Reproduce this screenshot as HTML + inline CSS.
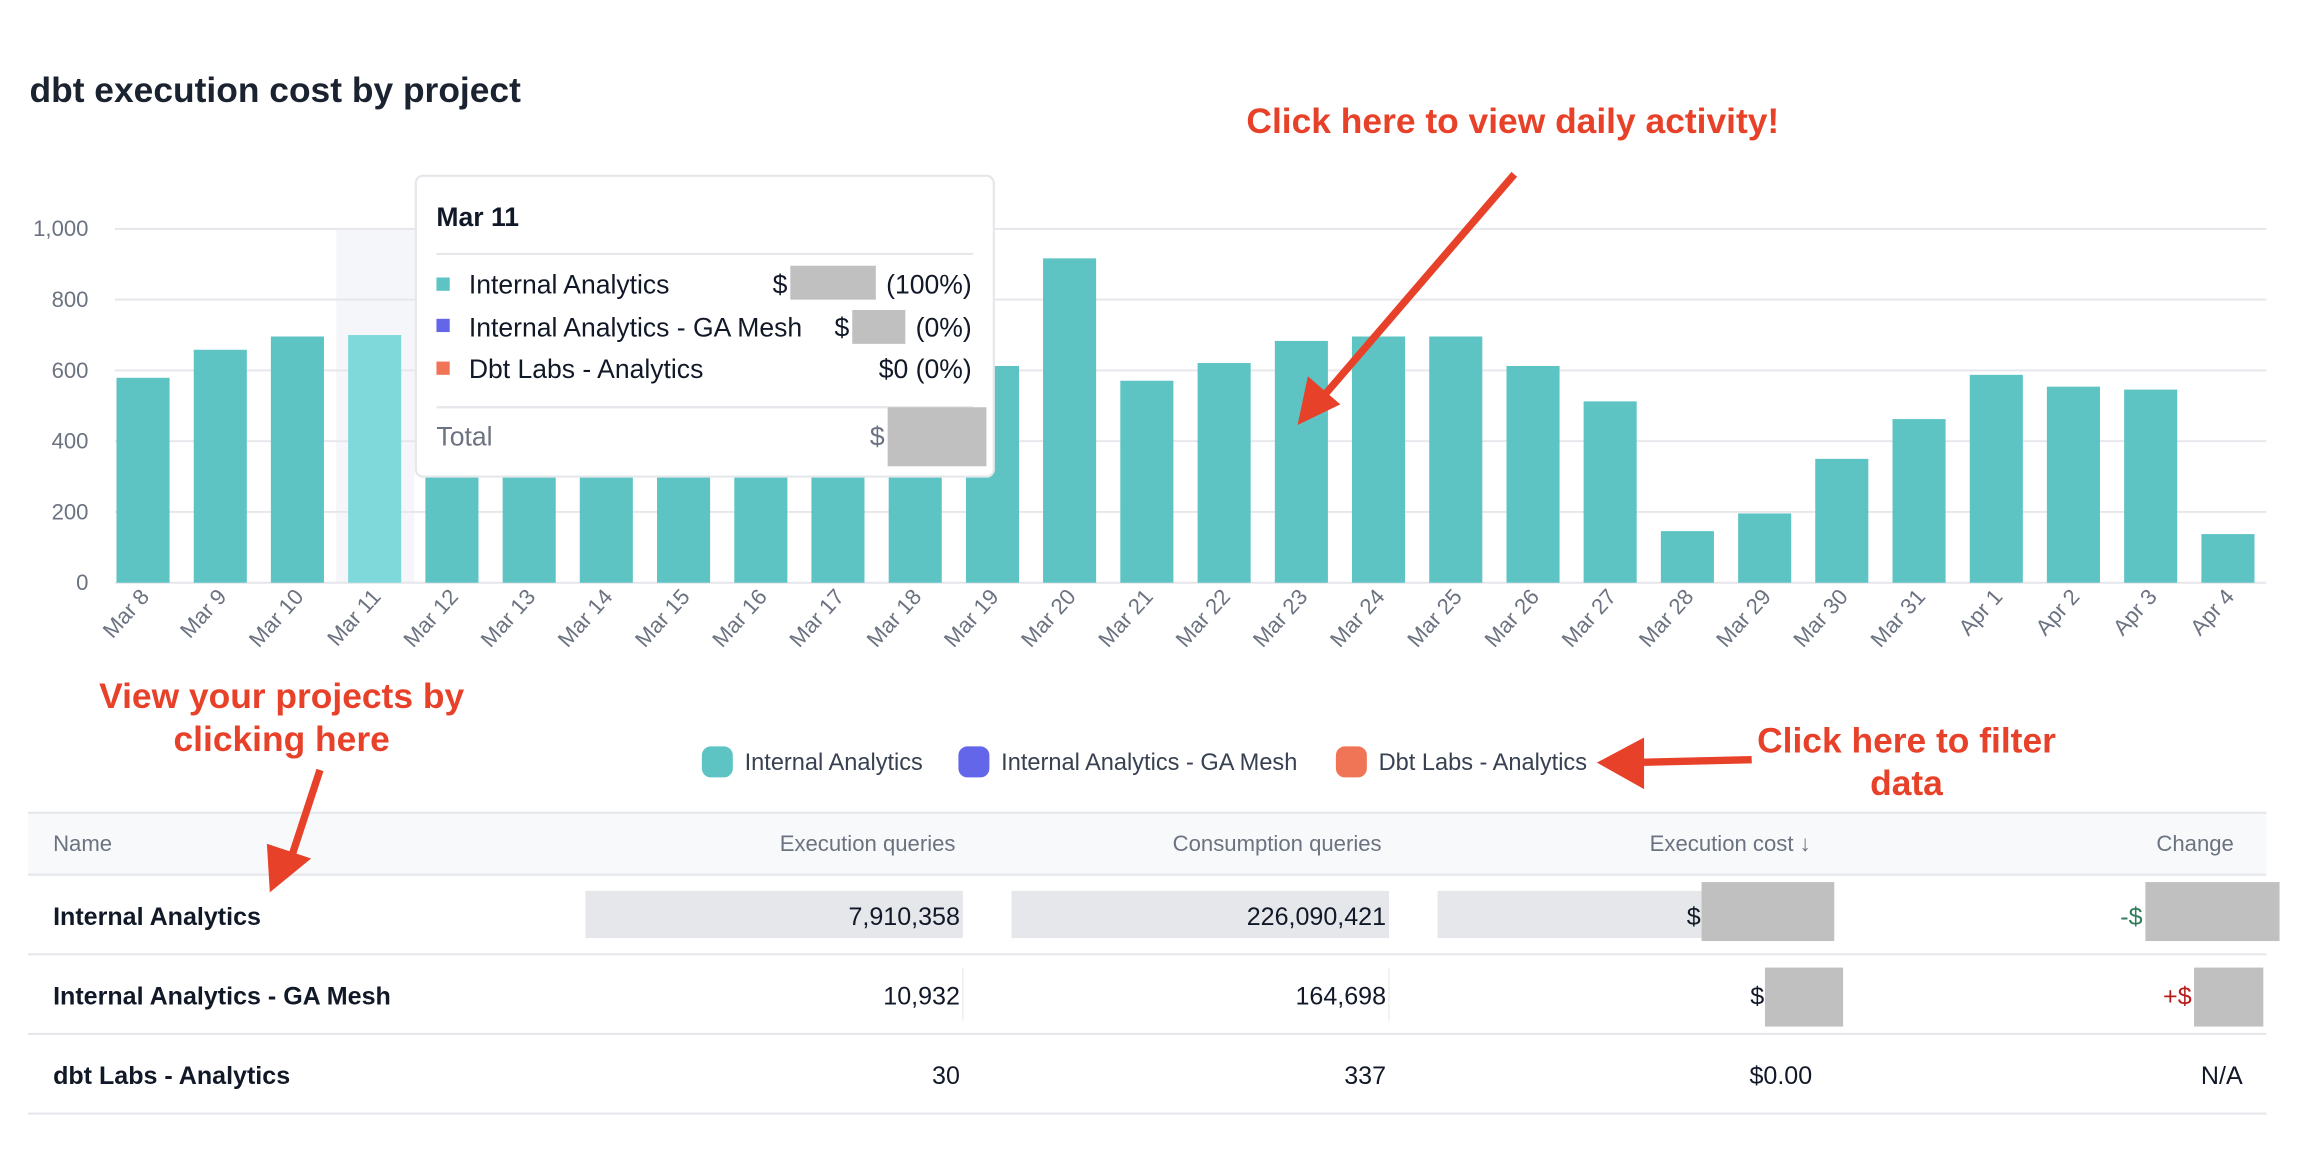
<!DOCTYPE html>
<html><head><meta charset="utf-8"><style>
html,body{margin:0;padding:0;background:#fff;}
svg{display:block;}
text{font-family:"Liberation Sans",sans-serif;}
</style></head><body>
<svg width="2312" height="1164" viewBox="0 0 1568 789" xmlns="http://www.w3.org/2000/svg">
<rect width="1568" height="789" fill="#fff"/>
<text x="20" y="69" font-size="24" font-weight="bold" fill="#1c2330">dbt execution cost by project</text>
<rect x="228" y="155" width="53" height="240" fill="#f5f6fa"/>
<g stroke="#e6e6ec" stroke-width="1.3">
<line x1="78" y1="155" x2="1537" y2="155"/><line x1="78" y1="203" x2="1537" y2="203"/>
<line x1="78" y1="251" x2="1537" y2="251"/><line x1="78" y1="299" x2="1537" y2="299"/>
<line x1="78" y1="347" x2="1537" y2="347"/><line x1="78" y1="395" x2="1537" y2="395"/>
</g>
<g font-size="15" fill="#6b7280" text-anchor="end">
<text x="60" y="160">1,000</text><text x="60" y="208">800</text><text x="60" y="256">600</text>
<text x="60" y="304">400</text><text x="60" y="352">200</text><text x="60" y="400">0</text>
</g>
<g fill="#5ec4c3">
<rect x="79" y="256" width="36" height="139"/>
<rect x="131.4" y="237" width="36" height="158"/>
<rect x="183.7" y="228" width="36" height="167"/>
<rect x="236.1" y="227" width="36" height="168" fill="#7fd9db"/>
<rect x="288.5" y="250" width="36" height="145"/>
<rect x="340.9" y="250" width="36" height="145"/>
<rect x="393.2" y="250" width="36" height="145"/>
<rect x="445.6" y="250" width="36" height="145"/>
<rect x="498" y="250" width="36" height="145"/>
<rect x="550.3" y="250" width="36" height="145"/>
<rect x="602.7" y="250" width="36" height="145"/>
<rect x="655.1" y="248" width="36" height="147"/>
<rect x="707.4" y="175" width="36" height="220"/>
<rect x="759.8" y="258" width="36" height="137"/>
<rect x="812.2" y="246" width="36" height="149"/>
<rect x="864.6" y="231" width="36" height="164"/>
<rect x="916.9" y="228" width="36" height="167"/>
<rect x="969.3" y="228" width="36" height="167"/>
<rect x="1021.7" y="248" width="36" height="147"/>
<rect x="1074" y="272" width="36" height="123"/>
<rect x="1126.4" y="360" width="36" height="35"/>
<rect x="1178.8" y="348" width="36" height="47"/>
<rect x="1231.1" y="311" width="36" height="84"/>
<rect x="1283.5" y="284" width="36" height="111"/>
<rect x="1335.9" y="254" width="36" height="141"/>
<rect x="1388.2" y="262" width="36" height="133"/>
<rect x="1440.6" y="264" width="36" height="131"/>
<rect x="1493" y="362" width="36" height="33"/>
</g>
<g font-size="15" fill="#6b7280" text-anchor="end">
<text transform="translate(102,405) rotate(-48)">Mar 8</text>
<text transform="translate(154.4,405) rotate(-48)">Mar 9</text>
<text transform="translate(206.7,405) rotate(-48)">Mar 10</text>
<text transform="translate(259.1,405) rotate(-48)">Mar 11</text>
<text transform="translate(311.5,405) rotate(-48)">Mar 12</text>
<text transform="translate(363.9,405) rotate(-48)">Mar 13</text>
<text transform="translate(416.2,405) rotate(-48)">Mar 14</text>
<text transform="translate(468.6,405) rotate(-48)">Mar 15</text>
<text transform="translate(521,405) rotate(-48)">Mar 16</text>
<text transform="translate(573.3,405) rotate(-48)">Mar 17</text>
<text transform="translate(625.7,405) rotate(-48)">Mar 18</text>
<text transform="translate(678.1,405) rotate(-48)">Mar 19</text>
<text transform="translate(730.4,405) rotate(-48)">Mar 20</text>
<text transform="translate(782.8,405) rotate(-48)">Mar 21</text>
<text transform="translate(835.2,405) rotate(-48)">Mar 22</text>
<text transform="translate(887.6,405) rotate(-48)">Mar 23</text>
<text transform="translate(939.9,405) rotate(-48)">Mar 24</text>
<text transform="translate(992.3,405) rotate(-48)">Mar 25</text>
<text transform="translate(1044.7,405) rotate(-48)">Mar 26</text>
<text transform="translate(1097,405) rotate(-48)">Mar 27</text>
<text transform="translate(1149.4,405) rotate(-48)">Mar 28</text>
<text transform="translate(1201.8,405) rotate(-48)">Mar 29</text>
<text transform="translate(1254.1,405) rotate(-48)">Mar 30</text>
<text transform="translate(1306.5,405) rotate(-48)">Mar 31</text>
<text transform="translate(1358.9,405) rotate(-48)">Apr 1</text>
<text transform="translate(1411.2,405) rotate(-48)">Apr 2</text>
<text transform="translate(1463.6,405) rotate(-48)">Apr 3</text>
<text transform="translate(1516,405) rotate(-48)">Apr 4</text>
</g>
<rect x="282" y="119" width="392" height="204" rx="5" fill="#fff" stroke="#e5e7eb" stroke-width="1.5"/>
<text x="296" y="153" font-size="18" font-weight="bold" fill="#111827">Mar 11</text>
<line x1="296" y1="172" x2="660" y2="172" stroke="#e5e7eb" stroke-width="1.5"/>
<rect x="296" y="188" width="9" height="9" fill="#5ec4c3"/>
<rect x="296" y="216" width="9" height="9" fill="#6366e8"/>
<rect x="296" y="245" width="9" height="9" fill="#f07556"/>
<g font-size="18" fill="#111827">
<text x="318" y="199">Internal Analytics</text>
<text x="318" y="228">Internal Analytics - GA Mesh</text>
<text x="318" y="256">Dbt Labs - Analytics</text>
<text x="524" y="199">$</text><text x="659" y="199" text-anchor="end">(100%)</text>
<text x="566" y="228">$</text><text x="659" y="228" text-anchor="end">(0%)</text>
<text x="659" y="256" text-anchor="end">$0 (0%)</text>
</g>
<rect x="536" y="180" width="58" height="23" fill="#c0c0c0"/>
<rect x="578" y="210" width="36" height="23" fill="#c0c0c0"/>
<line x1="296" y1="276" x2="660" y2="276" stroke="#e5e7eb" stroke-width="1.5"/>
<text x="296" y="302" font-size="18" fill="#6b7280">Total</text>
<text x="590" y="302" font-size="18" fill="#6b7280">$</text>
<rect x="602" y="276" width="67" height="40" fill="#c0c0c0"/>
<g fill="#e8412a" font-size="24" font-weight="bold" text-anchor="middle">
<text x="1026" y="90">Click here to view daily activity!</text>
<text x="191" y="480">View your projects by</text>
<text x="191" y="509">clicking here</text>
<text x="1293" y="510">Click here to filter</text>
<text x="1293" y="539">data</text>
</g>
<rect x="476" y="506" width="21" height="21" rx="6" fill="#5ec4c3"/>
<rect x="650" y="506" width="21" height="21" rx="6" fill="#6366e8"/>
<rect x="906" y="506" width="21" height="21" rx="6" fill="#f07556"/>
<g font-size="16" fill="#374151">
<text x="505" y="522">Internal Analytics</text>
<text x="679" y="522">Internal Analytics - GA Mesh</text>
<text x="935" y="522">Dbt Labs - Analytics</text>
</g>
<rect x="19" y="551" width="1518" height="42" fill="#f8f9fb"/>
<g stroke="#e5e7eb" stroke-width="1.5">
<line x1="19" y1="551" x2="1537" y2="551"/><line x1="19" y1="593" x2="1537" y2="593"/>
<line x1="19" y1="647" x2="1537" y2="647"/><line x1="19" y1="701" x2="1537" y2="701"/>
<line x1="19" y1="755" x2="1537" y2="755"/>
</g>
<g font-size="15" fill="#6b7280">
<text x="36" y="577">Name</text>
<text x="648" y="577" text-anchor="end">Execution queries</text>
<text x="937" y="577" text-anchor="end">Consumption queries</text>
<text x="1228" y="577" text-anchor="end">Execution cost ↓</text>
<text x="1515" y="577" text-anchor="end">Change</text>
</g>
<rect x="397" y="604" width="256" height="32" fill="#e5e7eb"/>
<rect x="686" y="604" width="256" height="32" fill="#e5e7eb"/>
<rect x="975" y="604" width="179" height="32" fill="#e5e7eb"/>
<line x1="653" y1="656" x2="653" y2="692" stroke="#eee"/>
<line x1="942" y1="656" x2="942" y2="692" stroke="#eee"/>
<g font-size="17" fill="#111827">
<text x="36" y="627" font-weight="bold">Internal Analytics</text>
<text x="36" y="681" font-weight="bold">Internal Analytics - GA Mesh</text>
<text x="36" y="735" font-weight="bold">dbt Labs - Analytics</text>
<text x="651" y="627" text-anchor="end">7,910,358</text>
<text x="940" y="627" text-anchor="end">226,090,421</text>
<text x="1144" y="627">$</text>
<text x="651" y="681" text-anchor="end">10,932</text>
<text x="940" y="681" text-anchor="end">164,698</text>
<text x="1187" y="681">$7</text>
<text x="651" y="735" text-anchor="end">30</text>
<text x="940" y="735" text-anchor="end">337</text>
<text x="1229" y="735" text-anchor="end">$0.00</text>
<text x="1521" y="735" text-anchor="end">N/A</text>
<text x="1438" y="627" fill="#2f7d5b">-$</text>
<text x="1467" y="681" fill="#b91c1c">+$</text>
</g>
<rect x="1154" y="598" width="90" height="40" fill="#c0c0c0"/>
<rect x="1455" y="598" width="91" height="40" fill="#c0c0c0"/>
<rect x="1197" y="656" width="53" height="40" fill="#c0c0c0"/>
<rect x="1488" y="656" width="47" height="40" fill="#c0c0c0"/>
<g stroke="#e8412a" stroke-width="5" fill="#e8412a">
<line x1="1027" y1="118" x2="898" y2="268"/>
<line x1="217" y1="522" x2="198" y2="580"/>
<line x1="1188" y1="515" x2="1105" y2="517"/>
</g>
<polygon points="880,288 887,255 909,274" fill="#e8412a"/>
<polygon points="183,605 181,572 211,582" fill="#e8412a"/>
<polygon points="1083,517 1115,500 1115,535" fill="#e8412a"/>
</svg>
</body></html>
